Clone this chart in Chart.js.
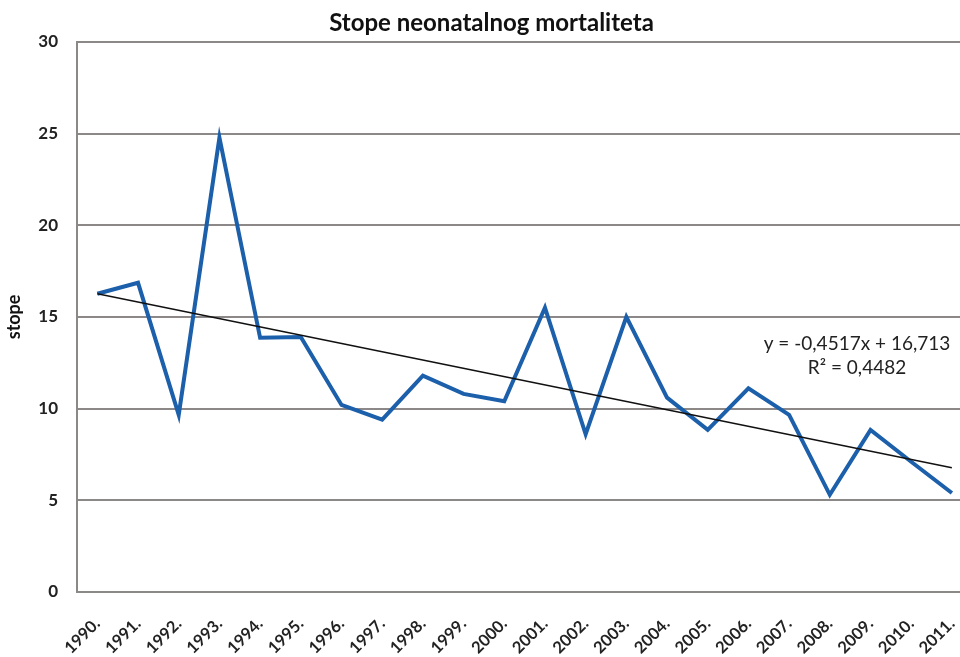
<!DOCTYPE html>
<html>
<head>
<meta charset="utf-8">
<script src="https://cdn.jsdelivr.net/npm/chart.js@4"></script>
<style>
  html, body { margin: 0; padding: 0; background: #fff; overflow: hidden; }
  #wrap { width: 988px; height: 657px; }
</style>
</head>
<body>
<div id="wrap"><canvas id="c"></canvas></div>
<script>
// godine i stope (očitano sa slike)
const years = ['1990.', '1991.', '1992.', '1993.', '1994.', '1995.', '1996.', '1997.', '1998.', '1999.', '2000.',
  '2001.', '2002.', '2003.', '2004.', '2005.', '2006.', '2007.', '2008.', '2009.', '2010.', '2011.'];
const rates = [16.26, 16.86, 9.66, 24.77, 13.86, 13.9, 10.2, 9.4, 11.8, 10.8, 10.4,
  15.5, 8.6, 15.0, 10.6, 8.84, 11.1, 9.66, 5.3, 8.84, 7.1, 5.4];
// krajnje točke linearnog trenda
const trend = [16.26, null, null, null, null, null, null, null, null, null, null,
  null, null, null, null, null, null, null, null, null, null, 6.78];
const yTicks = [0, 5, 10, 15, 20, 25, 30];
const eqLines = ['y = -0,4517x + 16,713', 'R\u00B2 = 0,4482'];

const FONT = 'Lato, "Open Sans", sans-serif';
const GRID = '#8c8888';

// tekst jednadžbe trenda
const equationLabel = {
  id: 'equationLabel',
  afterDatasetsDraw(chart) {
    const ctx = chart.ctx;
    const y = chart.scales.y;
    ctx.save();
    ctx.font = '19px ' + FONT;
    ctx.fillStyle = '#222';
    ctx.textAlign = 'center';
    ctx.textBaseline = 'middle';
    ctx.fillText(eqLines[0], 857, y.getPixelForValue(13.55));
    ctx.fillText(eqLines[1], 857, y.getPixelForValue(12.2));
    ctx.restore();
  }
};

new Chart(document.getElementById('c'), {
  type: 'line',
  data: {
    labels: years,
    datasets: [{
      label: 'stope',
      data: rates,
      borderColor: '#1c5fab',
      borderWidth: 4,
      pointRadius: 0,
      tension: 0,
      order: 2
    }, {
      label: 'trend',
      data: trend,
      borderColor: '#111',
      borderWidth: 1.5,
      pointRadius: 0,
      spanGaps: true,
      order: 1
    }]
  },
  options: {
    responsive: true,
    maintainAspectRatio: false,
    animation: false,
    layout: { padding: { left: 0, right: 5, top: 0, bottom: 0 } },
    plugins: {
      legend: { display: false },
      tooltip: { enabled: false },
      title: {
        display: true,
        text: 'Stope neonatalnog mortaliteta',
        color: '#111',
        font: { family: FONT, size: 24, weight: 'bold' },
        padding: { top: 9, bottom: 4 }
      }
    },
    scales: {
      x: {
        offset: true,
        grid: { display: false, drawTicks: false },
        border: { display: false },
        ticks: {
          color: '#222',
          font: { family: FONT, size: 16.5, weight: 'bold' },
          minRotation: 45,
          maxRotation: 45,
          autoSkip: false,
          padding: 22
        },
        afterFit(scale) { scale.height = 65; }
      },
      y: {
        min: 0,
        max: 30,
        afterBuildTicks(scale) { scale.ticks = yTicks.map(v => ({ value: v })); },
        grid: { color: GRID, lineWidth: 2, drawTicks: false },
        border: { display: true, color: GRID, width: 2 },
        ticks: {
          color: '#222',
          font: { family: FONT, size: 17, weight: 'bold' },
          padding: 19
        },
        title: {
          display: true,
          text: 'stope',
          color: '#111',
          font: { family: FONT, size: 18, weight: 'bold' },
          padding: { top: 3, bottom: 0 }
        },
        afterFit(scale) { scale.width = 77; }
      }
    }
  },
  plugins: [equationLabel]
});
</script>
</body>
</html>
